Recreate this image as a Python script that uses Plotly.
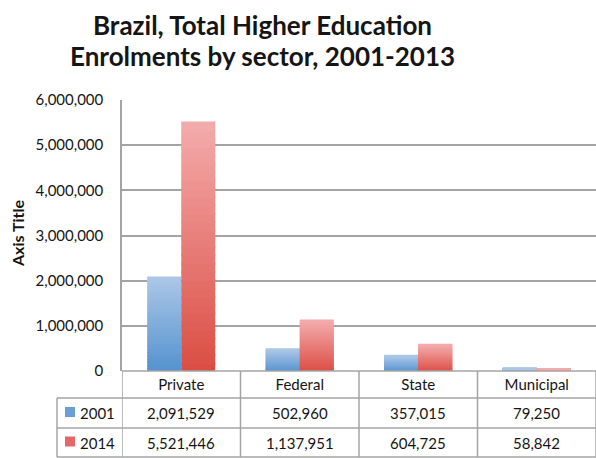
import plotly.graph_objects as go

# ---- data ----
categories = ["Private", "Federal", "State", "Municipal"]
years = ["2001", "2014"]
values_2001 = [2091529, 502960, 357015, 79250]
values_2014 = [5521446, 1137951, 604725, 58842]
y_ticks = [0, 1000000, 2000000, 3000000, 4000000, 5000000, 6000000]

title_lines = ["Brazil, Total Higher Education", "Enrolments by sector, 2001-2013"]
axis_title = "Axis Title"

# ---- style ----
W, H = 596, 458
L, R, T, B = 122, 0, 100, 87
PW, PH = W - L - R, H - T - B
YMAX = 6000000
FONT = "Lato"
TXT = "#151515"
GRID = "#a4a4a4"
# gradient (top colour, bottom colour)
grad = {
    "2001": ((170, 198, 230), (84, 146, 207)),
    "2014": ((243, 170, 170), (219, 78, 68)),
}
swatch = {"2001": "#6a9fd6", "2014": "#e4676a"}
NSEG = 30
OVER = YMAX / PH * 1.5  # small overlap (~1.5 px) to hide seams between gradient slices


def px(x):
    return (x - L) / PW


def py(y):
    return (H - B - y) / PH


def mix(c1, c2, t):
    return "rgb(%d,%d,%d)" % tuple(round(a + (b - a) * t) for a, b in zip(c1, c2))


fig = go.Figure()
series = {"2001": values_2001, "2014": values_2014}
for yr in years:
    vals = series[yr]
    top, bot = grad[yr]
    for i in range(NSEG):
        t = i / (NSEG - 1)  # 0 bottom -> 1 top
        bases = [max(0.0, v * i / NSEG - (OVER if i > 0 else 0)) for v in vals]
        tops = [v * (i + 1) / NSEG for v in vals]
        fig.add_trace(go.Bar(
            x=categories,
            y=[tp - bs for tp, bs in zip(tops, bases)],
            base=bases,
            offsetgroup=yr,
            marker=dict(color=mix(bot, top, t), line=dict(width=0)),
            showlegend=False,
            hoverinfo="skip",
        ))

fig.update_layout(
    width=W, height=H,
    margin=dict(l=L, r=R, t=T, b=B),
    paper_bgcolor="white", plot_bgcolor="white",
    barmode="group", bargap=0.426, bargroupgap=0,
    font=dict(family=FONT, size=15, color=TXT),
    showlegend=False,
)
fig.update_yaxes(
    range=[0, YMAX], tickvals=y_ticks, tickformat=",",
    showgrid=True, gridcolor=GRID, gridwidth=1.5,
    showline=True, linecolor=GRID, linewidth=1.5,
    zeroline=False, ticks="", ticklabelstandoff=14,
    tickfont=dict(family=FONT, size=15, color=TXT),
)
fig.update_xaxes(
    range=[-0.5, 3.5], showgrid=False, showline=False, zeroline=False,
    ticks="", tickfont=dict(family=FONT, size=15, color=TXT),
    ticklabelstandoff=3,
)

# ---- title ----
for k, line in enumerate(title_lines):
    fig.add_annotation(
        text="<b>%s</b>" % line, xref="paper", yref="paper",
        x=px(262), y=py(25 + 31 * k), xanchor="center", yanchor="middle",
        showarrow=False, font=dict(family=FONT, size=26, color=TXT),
    )

# ---- axis title ----
fig.add_annotation(
    text="<b>%s</b>" % axis_title, xref="paper", yref="paper",
    x=px(17), y=py(234), textangle=-90, xanchor="center", yanchor="middle",
    showarrow=False, font=dict(family=FONT, size=16, color=TXT),
)

# ---- data table ----
row_edges = [371, 398, 428, 457]
line_style = dict(color=GRID, width=1.5)
n = len(categories)
fig.add_shape(type="line", xref="paper", yref="paper",
              x0=0, x1=1, y0=py(371), y1=py(371), line=line_style)
for yy in row_edges[1:]:
    fig.add_shape(type="line", xref="paper", yref="paper",
                  x0=px(57), x1=1, y0=py(yy), y1=py(yy), line=line_style)
for j in range(n + 1):
    fig.add_shape(type="line", xref="x", yref="paper",
                  x0=j - 0.5, x1=j - 0.5, y0=py(371), y1=py(457), line=line_style)
fig.add_shape(type="line", xref="paper", yref="paper",
              x0=px(57), x1=px(57), y0=py(398), y1=py(457), line=line_style)

for r, yr in enumerate(years):
    yc = (row_edges[r + 1] + row_edges[r + 2]) / 2
    fig.add_shape(type="rect", xref="paper", yref="paper",
                  x0=px(65), x1=px(75), y0=py(yc - 6), y1=py(yc + 4),
                  fillcolor=swatch[yr], line=dict(width=0))
    fig.add_annotation(text=yr, xref="paper", yref="paper",
                       x=px(78), y=py(yc), xanchor="left", yanchor="middle",
                       showarrow=False, font=dict(family=FONT, size=15, color=TXT))
    for j, v in enumerate(series[yr]):
        fig.add_annotation(text=f"{v:,}", xref="x", yref="paper",
                           x=categories[j], y=py(yc), xanchor="center", yanchor="middle",
                           showarrow=False, font=dict(family=FONT, size=15, color=TXT))

fig.write_html("out.html")
